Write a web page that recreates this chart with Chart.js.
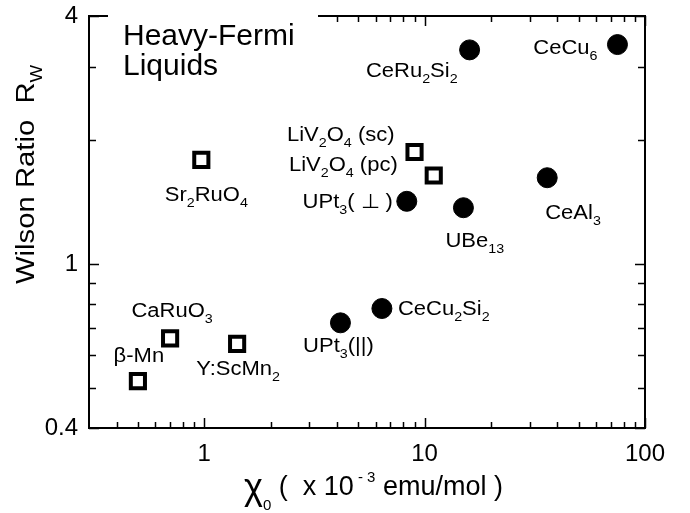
<!DOCTYPE html>
<html>
<head>
<meta charset="utf-8">
<script src="https://cdn.jsdelivr.net/npm/chart.js@4.4.1/dist/chart.umd.min.js"></script>
<style>
  html, body { margin: 0; padding: 0; background: #fff; }
</style>
</head>
<body>
<canvas id="chart" width="690" height="513"></canvas>
<script>
// open squares (d-electron systems)
const squareNames = ['Sr_2RuO_4', 'LiV_2O_4 (sc)', 'LiV_2O_4 (pc)', 'CaRuO_3', 'Y:ScMn_2', 'β-Mn'];
const squareChi = [0.97, 9.0, 11.0, 0.70, 1.41, 0.50];
const squareRw = [1.79, 1.87, 1.64, 0.66, 0.64, 0.52];

// filled circles (f-electron heavy fermions)
const circleNames = ['UPt_3( ⊥ )', 'UBe_13', 'CeAl_3', 'CeRu_2Si_2', 'CeCu_6', 'CeCu_2Si_2', 'UPt_3(||)'];
const circleChi = [8.3, 15.0, 36.0, 16.0, 75.0, 6.4, 4.15];
const circleRw = [1.42, 1.37, 1.62, 3.31, 3.41, 0.78, 0.72];

// axis ticks
const xTicks = [0.4, 0.5, 0.6, 0.7, 0.8, 0.9, 1, 2, 3, 4, 5, 6, 7, 8, 9, 10, 20, 30, 40, 50, 60, 70, 80, 90, 100];
const xLabels = [1, 10, 100];
const yTicks = [0.4, 0.5, 0.6, 0.7, 0.8, 0.9, 1, 2, 3, 4];
const yLabels = [0.4, 1, 4];

// label placement next to each marker: [align, dx, dy]
const squareLabelPos = [['center', 5, 34], ['right', -20, -18], ['right', -36, -12], ['center', 2, -28], ['center', 1, 24], ['center', 1, -26]];
const circleLabelPos = [['right', -14, 0], ['left', -18, 32], ['left', -2, 34], ['right', -12, 20], ['right', -20, 2], ['left', 16, -1], ['center', -2, 22]];

const FONT = '"Liberation Sans", Arial, Helvetica, sans-serif';

// split "CeRu_2Si_2" into normal / subscript pieces
function parseRich(str) {
  const parts = [];
  const re = /_(\d+|.)/g;
  let last = 0, m;
  while ((m = re.exec(str)) !== null) {
    if (m.index > last) parts.push({ t: str.slice(last, m.index), sub: false });
    parts.push({ t: m[1], sub: true });
    last = re.lastIndex;
  }
  if (last < str.length) parts.push({ t: str.slice(last), sub: false });
  return parts;
}

// y is the baseline of the main text; sx stretches glyphs horizontally
function drawRich(ctx, str, x, y, size, align, sx = 1) {
  const subSize = Math.round(size * 0.63);
  const parts = parseRich(str);
  let w = 0;
  parts.forEach(p => {
    ctx.font = (p.sub ? subSize : size) + 'px ' + FONT;
    p.w = ctx.measureText(p.t).width * sx;
    w += p.w;
  });
  let cx = align === 'center' ? x - w / 2 : align === 'right' ? x - w : x;
  ctx.textAlign = 'left';
  ctx.textBaseline = 'alphabetic';
  parts.forEach(p => {
    ctx.font = (p.sub ? subSize : size) + 'px ' + FONT;
    ctx.save();
    ctx.translate(cx, p.sub ? y + size * 0.3 : y);
    ctx.scale(sx, 1);
    ctx.fillText(p.t, 0, 0);
    ctx.restore();
    cx += p.w;
  });
}

const frame = {
  id: 'frame',
  beforeDatasetsDraw(chart) {
    const { ctx, chartArea: a, scales: { x, y } } = chart;
    ctx.save();
    ctx.strokeStyle = '#000';
    ctx.lineWidth = 1.5;
    ctx.beginPath();
    xTicks.forEach(v => {
      const px = Math.round(x.getPixelForValue(v)) + 0.5;
      const len = xLabels.includes(v) ? 10 : 6;
      ctx.moveTo(px, a.bottom); ctx.lineTo(px, a.bottom - len);
      ctx.moveTo(px, a.top); ctx.lineTo(px, a.top + len);
    });
    yTicks.forEach(v => {
      const py = Math.round(y.getPixelForValue(v)) + 0.5;
      const len = yLabels.includes(v) ? 10 : 7;
      ctx.moveTo(a.left, py); ctx.lineTo(a.left + len, py);
      ctx.moveTo(a.right, py); ctx.lineTo(a.right - len, py);
    });
    ctx.stroke();
    ctx.lineWidth = 2;
    ctx.strokeRect(a.left, a.top, a.right - a.left, a.bottom - a.top);
    // heading sits on a white box that breaks the top border
    ctx.fillStyle = '#fff';
    ctx.fillRect(108, a.top - 3, 210, 16);
    ctx.fillStyle = '#000';
    ctx.font = '30px ' + FONT;
    ctx.textAlign = 'left';
    ctx.textBaseline = 'alphabetic';
    ctx.fillText('Heavy-Fermi', 123, 45);
    ctx.fillText('Liquids', 123, 75);
    ctx.restore();
  },
  afterDatasetsDraw(chart) {
    const ctx = chart.ctx;
    ctx.save();
    ctx.fillStyle = '#000';
    const groups = [[0, squareNames, squareLabelPos], [1, circleNames, circleLabelPos]];
    groups.forEach(([di, names, pos]) => {
      const meta = chart.getDatasetMeta(di);
      meta.data.forEach((pt, i) => {
        const [align, dx, dy] = pos[i];
        drawRich(ctx, names[i], pt.x + dx, pt.y + dy + 7, 20, align, 1.1);
      });
    });

    // y axis title
    ctx.save();
    ctx.translate(34, 284);
    ctx.rotate(-Math.PI / 2);
    drawRich(ctx, 'Wilson Ratio  R_W', 0, 0, 25, 'left', 1.17);
    ctx.restore();

    // x axis title: chi_0 ( x 10^-3 emu/mol )
    let cx = 244;
    const base = 495;
    const seg = (t, size, dy) => {
      ctx.font = size + 'px ' + FONT;
      ctx.textAlign = 'left';
      ctx.fillText(t, cx, base + dy);
      cx += ctx.measureText(t).width;
    };
    seg('χ', 36, 4);
    seg('0', 15, 15);
    seg(' (  x 10', 27, 0);
    seg(' - 3', 15, -13);
    seg(' emu/mol )', 27, 0);
    ctx.restore();
  }
};

new Chart(document.getElementById('chart'), {
  type: 'scatter',
  data: {
    datasets: [
      {
        label: 'd-electron',
        data: squareChi.map((v, i) => ({ x: v, y: squareRw[i] })),
        pointStyle: 'rect',
        pointRadius: 10,
        backgroundColor: '#fff',
        borderColor: '#000',
        borderWidth: 4
      },
      {
        label: 'f-electron',
        data: circleChi.map((v, i) => ({ x: v, y: circleRw[i] })),
        pointStyle: 'circle',
        pointRadius: 10,
        backgroundColor: '#000',
        borderColor: '#000',
        borderWidth: 1
      }
    ]
  },
  options: {
    responsive: false,
    animation: false,
    layout: { padding: { top: 16, right: 45, left: 0, bottom: 0 } },
    plugins: { legend: { display: false }, tooltip: { enabled: false } },
    scales: {
      x: {
        type: 'logarithmic',
        min: 0.3,
        max: 100,
        afterBuildTicks: s => { s.ticks = xTicks.map(v => ({ value: v, major: xLabels.includes(v) })); },
        afterFit: s => { s.height = 85; s.paddingLeft = 0; s.paddingRight = 0; },
        grid: { display: false, drawTicks: false },
        border: { display: false },
        ticks: {
          autoSkip: false,
          maxRotation: 0,
          padding: 12,
          color: '#000',
          font: { family: FONT, size: 24 },
          callback: v => xLabels.includes(v) ? String(v) : ''
        }
      },
      y: {
        type: 'logarithmic',
        min: 0.4,
        max: 4,
        afterBuildTicks: s => { s.ticks = yTicks.map(v => ({ value: v, major: yLabels.includes(v) })); },
        afterFit: s => { s.width = 89; s.paddingTop = 0; s.paddingBottom = 0; },
        grid: { display: false, drawTicks: false },
        border: { display: false },
        ticks: {
          autoSkip: false,
          padding: 11,
          color: '#000',
          font: { family: FONT, size: 24 },
          callback: v => yLabels.includes(v) ? String(v) : ''
        }
      }
    }
  },
  plugins: [frame]
});
</script>
</body>
</html>
